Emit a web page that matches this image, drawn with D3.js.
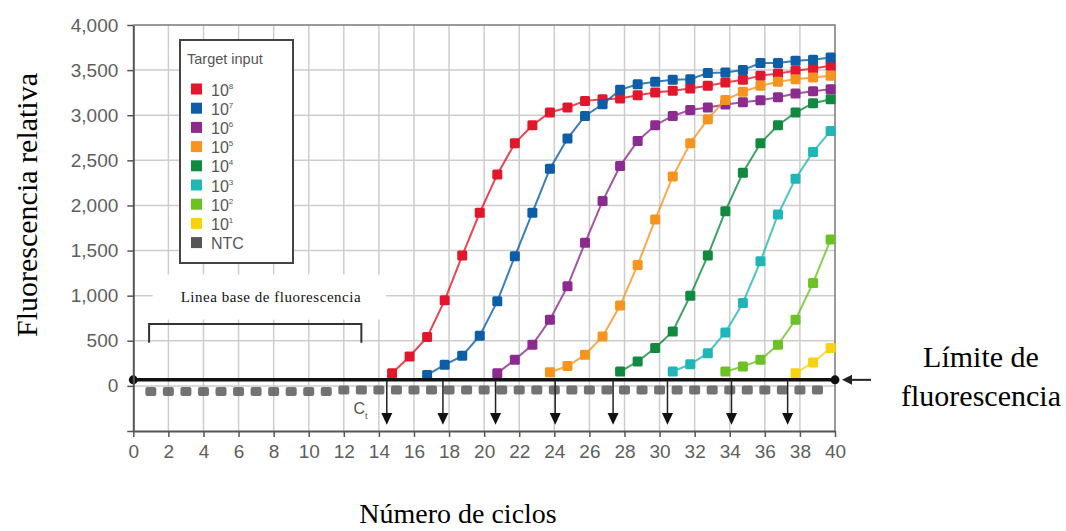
<!DOCTYPE html>
<html>
<head>
<meta charset="utf-8">
<script src="https://cdn.jsdelivr.net/npm/d3@7"></script>
<style>
  body { margin: 0; background: #fff; }
  svg { display: block; }
</style>
</head>
<body>
<svg id="chart"></svg>
<script>
// chart values
const xTicks = [0, 2, 4, 6, 8, 10, 12, 14, 16, 18, 20, 22, 24, 26, 28, 30, 32, 34, 36, 38, 40];
const yTicks = [-500, 0, 500, 1000, 1500, 2000, 2500, 3000, 3500, 4000];

const seriesExp = ["8", "7", "6", "5", "4", "3", "2", "1"];
const seriesColors = ["#e3172b", "#0d5ea6", "#8c2b8f", "#f7941d", "#108a3e", "#20b6b8", "#6cc125", "#f6d20f"];
const seriesStart = [14.75, 16.75, 20.75, 23.75, 27.75, 30.75, 33.75, 37.75];

const values8 = [141, 326, 541, 948, 1444, 1919, 2344, 2689, 2889, 3030, 3085, 3159, 3178,
                 3186, 3222, 3252, 3270, 3297, 3326, 3363, 3392, 3437, 3463, 3492, 3519, 3548];
const values7 = [122, 233, 333, 556, 937, 1437, 1920, 2408, 2741, 2992, 3122, 3281, 3344,
                 3370, 3392, 3400, 3467, 3474, 3500, 3578, 3578, 3603, 3614, 3641];
const values6 = [141, 289, 456, 733, 1103, 1586, 2048, 2437, 2714, 2889, 2992, 3059, 3086,
                 3120, 3145, 3165, 3200, 3240, 3265, 3289];
const values5 = [150, 220, 344, 548, 890, 1340, 1844, 2320, 2689, 2956, 3170, 3259, 3326,
                 3370, 3400, 3419, 3437];
const values4 = [159, 270, 419, 603, 1000, 1444, 1937, 2363, 2689, 2889, 3030, 3133, 3178];
const values3 = [159, 240, 363, 593, 919, 1381, 1900, 2297, 2593, 2826];
const values2 = [159, 214, 289, 456, 733, 1141, 1622];
const values1 = [141, 259, 419];

const ntcValues = [-62, -62, -62, -62, -62, -62, -62, -62, -62, -62, -62,
                   -45, -45, -45, -45, -45, -45, -45, -45, -45, -45, -45, -45, -45, -45,
                   -45, -45, -45, -45, -45, -45, -45, -45, -45, -45, -45, -45, -45, -45];
const ntcStart = 1;

const threshold = 67;
const ctCycles = [14.45, 17.65, 20.65, 24.05, 27.35, 30.45, 34.1, 37.3];

const allValues = [values8, values7, values6, values5, values4, values3, values2, values1];

const width = 1066, height = 531;
const svg = d3.select("#chart").attr("width", width).attr("height", height);

const x = d3.scaleLinear().domain([0, 40]).range([133.3, 835]);
const y = d3.scaleLinear().domain([-500, 4000]).range([431, 25]);

const series = allValues.map((vals, i) => ({
  exp: seriesExp[i],
  color: seriesColors[i],
  points: vals.map((v, k) => ({ c: seriesStart[i] + k, v }))
}));
const ntc = ntcValues.map((v, k) => ({ c: ntcStart + k, v }));

// grid
const grid = svg.append("g").attr("stroke", "#cdcdcd").attr("stroke-width", 1.5);
grid.selectAll(".vg").data(xTicks.slice(1, -1)).enter().append("line")
  .attr("x1", d => x(d)).attr("x2", d => x(d))
  .attr("y1", y(4000)).attr("y2", y(-500));
grid.selectAll(".hg").data(yTicks.slice(1, -1)).enter().append("line")
  .attr("x1", x(0)).attr("x2", x(40))
  .attr("y1", d => y(d)).attr("y2", d => y(d));

// frame top / right
svg.append("path")
  .attr("d", `M${x(0)},${y(4000)}H${x(40)}V${y(-500)}`)
  .attr("fill", "none").attr("stroke", "#7a7a7a").attr("stroke-width", 1.5);

// baseline annotation
svg.append("rect")
  .attr("x", x(1.1)).attr("y", y(1235)).attr("width", x(14.4) - x(1.1)).attr("height", y(735) - y(1235))
  .attr("fill", "#fff");
svg.append("text")
  .attr("x", x(2.7)).attr("y", y(930))
  .attr("font-family", "'Liberation Serif', 'Times New Roman', serif")
  .attr("font-size", 15).attr("fill", "#111")
  .attr("textLength", 180).attr("lengthAdjust", "spacing")
  .text("Linea base de fluorescencia");
svg.append("path")
  .attr("d", `M${x(0.9)},${y(477)}V${y(687)}H${x(13)}V${y(477)}`)
  .attr("fill", "none").attr("stroke", "#333").attr("stroke-width", 2);

// series lines and markers
const line = d3.line().x(d => x(d.c)).y(d => y(d.v));
const sg = svg.selectAll(".series").data(series).enter().append("g").attr("class", "series");
sg.append("path")
  .attr("d", d => line(d.points))
  .attr("fill", "none").attr("stroke", d => d.color)
  .attr("stroke-width", 2).attr("stroke-opacity", 0.8);

// NTC
svg.append("g").selectAll("rect").data(ntc).enter().append("rect")
  .attr("x", d => x(d.c) - 5.5).attr("y", d => y(d.v) - 4.5)
  .attr("width", 11).attr("height", 9).attr("rx", 2)
  .attr("fill", "#5b5b5b").attr("opacity", 0.85);

// threshold line
svg.append("line")
  .attr("x1", x(0)).attr("x2", x(40))
  .attr("y1", y(threshold)).attr("y2", y(threshold))
  .attr("stroke", "#111").attr("stroke-width", 3.5);
svg.selectAll(".tdot").data([0, 40]).enter().append("circle")
  .attr("cx", d => x(d)).attr("cy", y(threshold)).attr("r", 4.5).attr("fill", "#111");

sg.selectAll("rect").data(d => d.points.map(p => ({ ...p, color: d.color }))).enter().append("rect")
  .attr("x", d => x(d.c) - 5).attr("y", d => y(d.v) - 5)
  .attr("width", 10).attr("height", 10).attr("rx", 1.5)
  .attr("fill", d => d.color);

// Ct arrows
const ct = svg.append("g");
ct.selectAll("line").data(ctCycles).enter().append("line")
  .attr("x1", d => x(d)).attr("x2", d => x(d))
  .attr("y1", y(threshold)).attr("y2", y(-330))
  .attr("stroke", "#222").attr("stroke-width", 1.5);
ct.selectAll("path").data(ctCycles).enter().append("path")
  .attr("d", d => `M${x(d) - 5.5},${y(-300)}L${x(d) + 5.5},${y(-300)}L${x(d)},${y(-432)}Z`)
  .attr("fill", "#111");
const ctLabel = svg.append("text")
  .attr("x", x(12.55)).attr("y", y(-315))
  .attr("font-family", "'Liberation Sans', Arial, sans-serif")
  .attr("font-size", 16).attr("fill", "#555");
ctLabel.append("tspan").text("C");
ctLabel.append("tspan").attr("font-size", 9).attr("dy", 5).text("t");

// axes
const axisFont = "'Liberation Sans', Arial, sans-serif";
const yAxis = svg.append("g").attr("transform", `translate(${x(0)},0)`)
  .call(d3.axisLeft(y).tickValues(yTicks).tickSize(6).tickSizeOuter(0).tickPadding(9)
    .tickFormat(d => d < 0 ? "" : d3.format(",")(d)));
const xAxis = svg.append("g").attr("transform", `translate(0,${y(-500)})`)
  .call(d3.axisBottom(x).tickValues(xTicks).tickSize(6).tickSizeOuter(0).tickPadding(8));
[yAxis, xAxis].forEach(a => {
  a.select(".domain").attr("stroke", "#555").attr("stroke-width", 2);
  a.selectAll(".tick line").attr("stroke", "#555").attr("stroke-width", 1.5);
  a.selectAll(".tick text").attr("font-family", axisFont).attr("font-size", 19).attr("fill", "#5e5e5e");
});

// threshold arrow on the right
svg.append("line")
  .attr("x1", x(40) + 36).attr("x2", x(40) + 14)
  .attr("y1", y(threshold)).attr("y2", y(threshold))
  .attr("stroke", "#222").attr("stroke-width", 2);
svg.append("path")
  .attr("d", `M${x(40) + 7},${y(threshold)}L${x(40) + 17},${y(threshold) - 5}L${x(40) + 17},${y(threshold) + 5}Z`)
  .attr("fill", "#222");

// legend
const legend = svg.append("g").attr("transform", "translate(180,40)");
legend.append("rect")
  .attr("width", 113).attr("height", 223)
  .attr("fill", "#fff").attr("stroke", "#444").attr("stroke-width", 2);
legend.append("text")
  .attr("x", 7).attr("y", 24)
  .attr("font-family", axisFont).attr("font-size", 14.5).attr("fill", "#555")
  .text("Target input");
const legendRows = series.map(s => ({ label: "10", exp: s.exp, color: s.color }))
  .concat([{ label: "NTC", exp: "", color: "#555" }]);
const lr = legend.selectAll(".lr").data(legendRows).enter().append("g")
  .attr("transform", (d, i) => `translate(0,${49 + i * 19.2})`);
lr.append("rect").attr("x", 11).attr("y", -5.5).attr("width", 11).attr("height", 11).attr("fill", d => d.color);
const lt = lr.append("text").attr("x", 31).attr("y", 6.5)
  .attr("font-family", axisFont).attr("font-size", 16).attr("fill", "#555");
lt.append("tspan").text(d => d.label);
lt.append("tspan").attr("font-size", 8).attr("dy", -7).text(d => d.exp);

// titles
const serif = "'Liberation Serif', 'Times New Roman', serif";
svg.append("text")
  .attr("transform", "translate(37,205) rotate(-90)")
  .attr("text-anchor", "middle")
  .attr("font-family", serif).attr("font-size", 30).attr("fill", "#000")
  .text("Fluorescencia relativa");
svg.append("text")
  .attr("x", 458).attr("y", 523)
  .attr("text-anchor", "middle")
  .attr("font-family", serif).attr("font-size", 28).attr("fill", "#000")
  .text("Número de ciclos");
svg.append("text")
  .attr("x", 981).attr("y", 367)
  .attr("text-anchor", "middle")
  .attr("font-family", serif).attr("font-size", 30).attr("fill", "#000")
  .text("Límite de");
svg.append("text")
  .attr("x", 981).attr("y", 406)
  .attr("text-anchor", "middle")
  .attr("font-family", serif).attr("font-size", 30).attr("fill", "#000")
  .text("fluorescencia");
</script>
</body>
</html>
